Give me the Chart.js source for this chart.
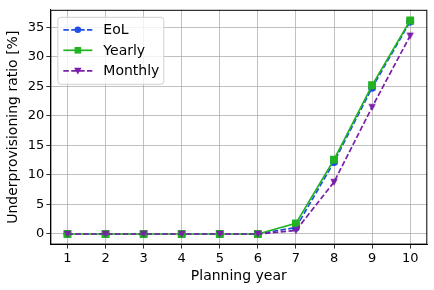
<!DOCTYPE html>
<html>
<head>
<meta charset="utf-8">
<script src="https://cdn.jsdelivr.net/npm/chart.js@4/dist/chart.umd.min.js"></script>
<style>
  html, body { margin: 0; padding: 0; background: #fff; }
  #wrap { width: 434px; height: 290px; }
</style>
</head>
<body>
<div id="wrap"><canvas id="ratioChart" width="434" height="290"></canvas></div>
<script>
// Planning years and underprovisioning ratio (%) per strategy
const years = [1, 2, 3, 4, 5, 6, 7, 8, 9, 10];
const eolData = [0, 0, 0, 0, 0, 0, 1.1, 12.2, 24.8, 36.0];
const yearlyData = [0, 0, 0, 0, 0, 0, 1.8, 12.6, 25.2, 36.2];
const monthlyData = [0, 0, 0, 0, 0, 0, 0.6, 8.8, 21.5, 33.6];
const yTicks = [0, 5, 10, 15, 20, 25, 30, 35];

const FONT = 'DejaVu Sans';
const toXY = arr => arr.map((v, i) => ({ x: years[i], y: v }));

// legend box inside the plot + black frame around the axes (matplotlib look)
const framePlugin = {
    id: 'frame',
    afterDraw(chart) {
        const { ctx, chartArea: a } = chart;
        ctx.save();
        ctx.strokeStyle = '#000';
        ctx.lineWidth = 1;
        ctx.strokeRect(a.left + 0.5, a.top + 0.5, a.right - a.left - 1, a.bottom - a.top - 1);

        // legend
        const bx = a.left + 7, by = a.top + 7, bw = 106, bh = 67;
        ctx.fillStyle = 'rgba(255,255,255,0.8)';
        ctx.strokeStyle = '#d0d0d0';
        ctx.beginPath();
        ctx.roundRect(bx + 0.5, by + 0.5, bw, bh, 3);
        ctx.fill();
        ctx.stroke();
        ctx.font = '14px ' + FONT;
        ctx.textBaseline = 'middle';
        chart.data.datasets.forEach((ds, i) => {
            const y = by + 13 + i * 20.5;
            const x0 = bx + 6, x1 = bx + 35, xm = (x0 + x1) / 2;
            ctx.strokeStyle = ds.borderColor;
            ctx.lineWidth = ds.borderWidth;
            ctx.setLineDash(ds.borderDash || []);
            ctx.beginPath();
            ctx.moveTo(x0, y);
            ctx.lineTo(x1, y);
            ctx.stroke();
            ctx.setLineDash([]);
            ctx.fillStyle = ds.pointBackgroundColor;
            ctx.beginPath();
            if (ds.pointStyle === 'circle') {
                ctx.arc(xm, y, 3.3, 0, Math.PI * 2);
            } else if (ds.pointStyle === 'rect') {
                ctx.rect(xm - 3.3, y - 3.3, 6.6, 6.6);
            } else {
                ctx.moveTo(xm - 3.7, y - 3);
                ctx.lineTo(xm + 3.7, y - 3);
                ctx.lineTo(xm, y + 3.8);
                ctx.closePath();
            }
            ctx.fill();
            ctx.fillStyle = '#000';
            ctx.fillText(ds.label, bx + 46, y + 1);
        });
        ctx.restore();
    }
};

// downward triangle marker
const triDown = document.createElement('canvas');
triDown.width = 10; triDown.height = 10;
(function () {
    const c = triDown.getContext('2d');
    c.fillStyle = '#7a1fa8';
    c.beginPath();
    c.moveTo(1.3, 1.8);
    c.lineTo(8.7, 1.8);
    c.lineTo(5, 8.8);
    c.closePath();
    c.fill();
})();

const ctx = document.getElementById('ratioChart').getContext('2d');
const ratioChart = new Chart(ctx, {
    type: 'line',
    data: {
        datasets: [
            {
                label: 'EoL',
                data: toXY(eolData),
                borderColor: '#1f4fe8',
                pointBackgroundColor: '#1f4fe8',
                pointBorderColor: '#1f4fe8',
                borderDash: [5.5, 2.4],
                borderWidth: 1.7,
                pointStyle: 'circle',
                pointRadius: 3.2,
                order: 2
            },
            {
                label: 'Yearly',
                data: toXY(yearlyData),
                borderColor: '#22b322',
                pointBackgroundColor: '#22b322',
                pointBorderColor: '#22b322',
                borderWidth: 1.7,
                pointStyle: 'rect',
                pointRadius: 4.4,
                order: 1
            },
            {
                label: 'Monthly',
                data: toXY(monthlyData),
                borderColor: '#7a1fa8',
                pointBackgroundColor: '#7a1fa8',
                pointBorderColor: '#7a1fa8',
                borderDash: [5.5, 2.4],
                borderWidth: 1.7,
                pointStyle: triDown,
                pointRadius: 5,
                order: 0
            }
        ]
    },
    options: {
        responsive: false,
        animation: false,
        layout: { padding: { left: 5, right: 6, top: 7, bottom: 5 } },
        scales: {
            x: {
                type: 'linear',
                min: 0.55,
                max: 10.45,
                afterBuildTicks: axis => { axis.ticks = years.map(v => ({ value: v })); },
                grid: { color: '#b0b0b0', lineWidth: 0.8, tickColor: '#000', tickLength: 4 },
                border: { color: '#000' },
                ticks: { color: '#000', font: { family: FONT, size: 13 }, padding: 2, maxRotation: 0 },
                title: { display: true, text: 'Planning year', color: '#000', font: { family: FONT, size: 14 }, padding: { top: 0, bottom: 0 } }
            },
            y: {
                min: -1.8,
                max: 38.0,
                afterBuildTicks: axis => { axis.ticks = yTicks.map(v => ({ value: v })); },
                grid: { color: '#b0b0b0', lineWidth: 0.8, tickColor: '#000', tickLength: 4 },
                border: { color: '#000' },
                ticks: { color: '#000', font: { family: FONT, size: 13 }, padding: 2 },
                title: { display: true, text: 'Underprovisioning ratio [%]', color: '#000', font: { family: FONT, size: 14 }, padding: { top: 0, bottom: 4 } }
            }
        },
        plugins: { legend: { display: false }, tooltip: { enabled: false } }
    },
    plugins: [framePlugin]
});
</script>
</body>
</html>
